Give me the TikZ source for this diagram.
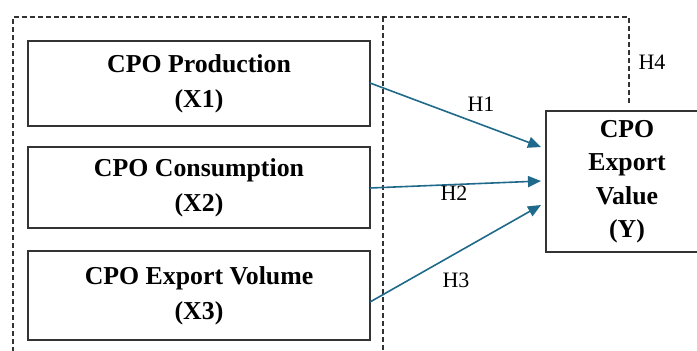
\documentclass[tikz,border=0pt]{standalone}
\usepackage{fontspec}
\setmainfont{Liberation Serif}
\usetikzlibrary{arrows.meta}
\definecolor{arrowblue}{HTML}{1F6A8A}
\definecolor{boxline}{HTML}{333333}
\tikzset{
  varbox/.style={draw=boxline, line width=1.5pt, rectangle, align=center,
    inner sep=0pt, font=\fontsize{25.8}{35}\selectfont\bfseries},
  ybox/.style={varbox, font=\fontsize{25.8}{33.5}\selectfont\bfseries},
  hyparrow/.style={draw=arrowblue, line width=1.6pt, -{Triangle[length=13pt,width=11pt]}},
  grouping/.style={draw=boxline, line width=1.1pt, dash pattern=on 5pt off 3pt},
  hlabel/.style={font=\fontsize{22}{24}\selectfont, inner sep=0pt}
}
\begin{document}
\begin{tikzpicture}[x=1pt,y=-1pt]
\useasboundingbox (0,0) rectangle (697,351);
% dashed grouping lines
\draw[grouping] (13,360) -- (13,17) -- (629,17) -- (629,103);
\draw[grouping] (383,17) -- (383,360);
% boxes
\node[varbox, minimum width=342pt, minimum height=85pt] (x1) at (199,83.5) {CPO Production\\(X1)};
\node[varbox, minimum width=342pt, minimum height=81pt] (x2) at (199,187.5) {CPO Consumption\\(X2)};
\node[varbox, minimum width=342pt, minimum height=89pt] (x3) at (199,295.5) {CPO Export Volume\\(X3)};
\node[ybox, minimum width=162pt, minimum height=141pt] (y) at (627,181.5) {CPO\\Export\\Value\\(Y)};
% arrow ends
\coordinate (s1) at (370,83);
\coordinate (s2) at (370,188);
\coordinate (s3) at (370,302);
\coordinate (e1) at (541,147);
\coordinate (e2) at (541,181);
\coordinate (e3) at (541,205);
\draw[hyparrow] (s1) -- (e1);
\draw[hyparrow] (s2) -- (e2);
\draw[hyparrow] (s3) -- (e3);
% labels
\node[hlabel] (h1) at (481,104) {H1};
\node[hlabel] (h2) at (454,193) {H2};
\node[hlabel] (h3) at (456,280) {H3};
\node[hlabel] (h4) at (652,62) {H4};
\end{tikzpicture}
\end{document}
